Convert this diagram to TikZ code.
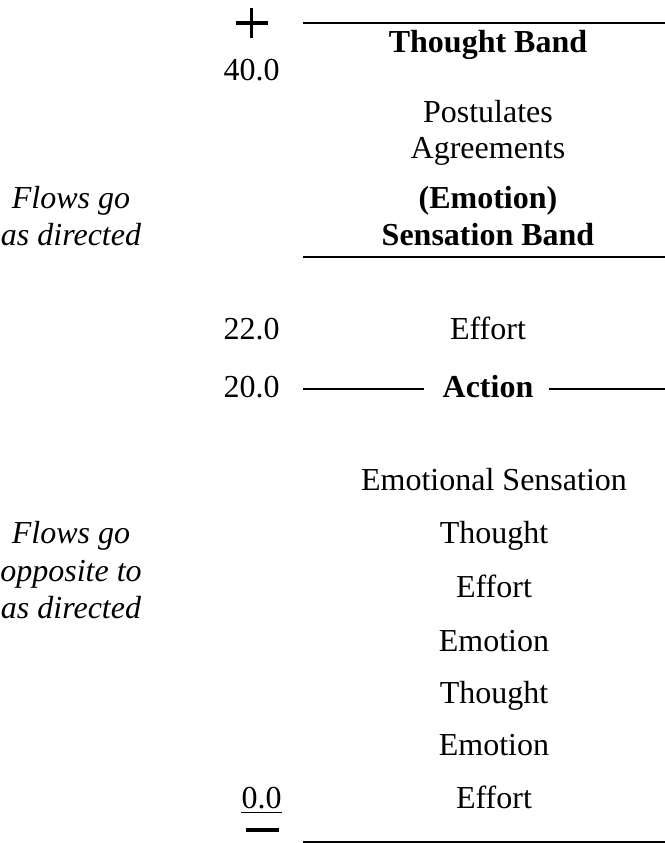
\documentclass[tikz,border=0pt]{standalone}
\usepackage{fontspec}
\setmainfont{Liberation Serif}
\tikzset{
	lbl/.style={anchor=base, inner sep=0pt, font=\fontsize{16}{19}\selectfont},
	bandlbl/.style={lbl, font=\fontsize{16}{19}\selectfont\bfseries},
	flowlbl/.style={lbl, font=\fontsize{16}{19}\selectfont\itshape},
	numlbl/.style={lbl, anchor=base east},
	bandline/.style={line width=1.4pt},
	signline/.style={line width=1.6pt}
}

\begin{document}
\begin{tikzpicture}[x=0.5pt, y=-0.5pt]
	\useasboundingbox (0,0) rectangle (665,843);

	\pgfmathsetmacro\numx{280};  % right edge of the tone numbers
	\pgfmathsetmacro\upx{488};   % centre of the upper column
	\pgfmathsetmacro\lowx{494};  % centre of the lower column
	\pgfmathsetmacro\flowx{71};  % centre of the italic notes

	% band rules
	\coordinate (topL) at (303,23);
	\coordinate (topR) at (665,23);
	\coordinate (sensL) at (303,257);
	\coordinate (sensR) at (665,257);
	\coordinate (actL) at (303,389);
	\coordinate (actR) at (665,389);
	\coordinate (botL) at (303,842);
	\coordinate (botR) at (665,842);

	% upper part
	\node[bandlbl] (thoughtband) at (\upx,52) {Thought Band};
	\node[numlbl] (n40) at (\numx,80) {40.0};
	\node[lbl] (postulates) at (\upx,122) {Postulates};
	\node[lbl] (agreements) at (\upx,158) {Agreements};
	\node[bandlbl] (emotionbr) at (\upx,208) {(Emotion)};
	\node[bandlbl] (sensband) at (\upx,245) {Sensation Band};
	\node[flowlbl] (flowsup) at (\flowx,208) {Flows go};
	\node[flowlbl] (dirup) at (\flowx,245) {as directed};

	% middle
	\node[numlbl] (n22) at (\numx,339) {22.0};
	\node[lbl] (effortup) at (\upx,339) {Effort};
	\node[numlbl] (n20) at (\numx,397) {20.0};
	\node[bandlbl] (action) at (\upx,397) {Action};

	% lower part
	\node[lbl] (emosens) at (\lowx,490) {Emotional Sensation};
	\node[lbl] (thoughtA) at (\lowx,543) {Thought};
	\node[lbl] (effortA) at (\lowx,597) {Effort};
	\node[lbl] (emotionA) at (\lowx,651) {Emotion};
	\node[lbl] (thoughtB) at (\lowx,703) {Thought};
	\node[lbl] (emotionB) at (\lowx,755) {Emotion};
	\node[lbl] (effortB) at (\lowx,808) {Effort};
	\node[numlbl] (n0) at (\numx+2,808) {0.0};
	\node[flowlbl] (flowsdown) at (\flowx,543) {Flows go};
	\node[flowlbl] (opposite) at (\flowx,581) {opposite to};
	\node[flowlbl] (dirdown) at (\flowx,618) {as directed};

	% rules
	\draw[bandline] (topL) -- (topR);
	\draw[bandline] (sensL) -- (sensR);
	\draw[bandline] (actL) -- ++(121,0);
	\draw[bandline] (actR) -- ++(-116,0);
	\draw[bandline] (botL) -- (botR);

	% plus and minus ends of the scale
	\draw[signline] (n40.center |- topL) ++(-16,0) -- ++(32,0);
	\draw[signline] (n40.center |- topL) ++(0,-15) -- ++(0,30);
	\draw[line width=0.5pt] ([yshift=-2pt]n0.south west) -- ([yshift=-2pt]n0.south east);
	\draw[signline] (n0.center |- botL) ++(-16,-12) -- ++(33,0);
\end{tikzpicture}
\end{document}
